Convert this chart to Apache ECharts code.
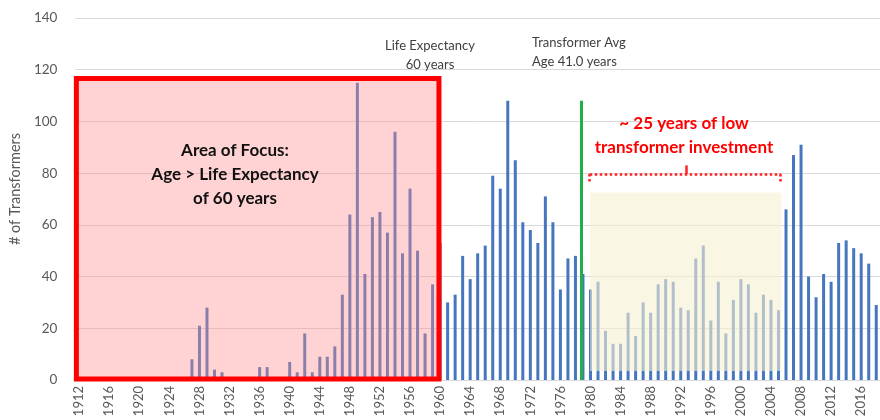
<!DOCTYPE html>
<html>
<head>
<meta charset="utf-8">
<script src="https://cdn.jsdelivr.net/npm/echarts@6/dist/echarts.min.js"></script>
<style>
  html, body { margin: 0; padding: 0; background: #fff; }
  #age-chart { width: 880px; height: 420px; }
</style>
</head>
<body>
<div id="age-chart"></div>
<script>
// install year of transformers, 1912 .. 2018
var years = [];
for (var y = 1912; y <= 2018; y++) years.push(String(y));

// # of transformers per install year
var counts = [
  0, 0, 0, 0, 0, 0, 0, 0, 0, 0,        // 1912-1921
  0, 1, 0, 0, 0, 8, 21, 28, 4, 3,      // 1922-1931
  0, 0, 0, 1, 5, 5, 0, 0, 7, 3,        // 1932-1941
  18, 3, 9, 9, 13, 33, 64, 115, 41, 63, // 1942-1951
  65, 57, 96, 49, 74, 50, 18, 37, 53, 30, // 1952-1961
  33, 48, 39, 49, 52, 79, 74, 108, 85, 61, // 1962-1971
  58, 53, 71, 61, 35, 47, 48, 41, 35, 38, // 1972-1981
  19, 14, 14, 26, 17, 30, 26, 37, 39, 38, // 1982-1991
  28, 27, 47, 52, 23, 38, 18, 31, 39, 37, // 1992-2001
  26, 33, 31, 27, 66, 87, 91, 40, 32, 41, // 2002-2011
  38, 53, 54, 51, 49, 45, 29            // 2012-2018
];

var yTicks = [0, 20, 40, 60, 80, 100, 120, 140];

// overlays, in (year, count) units
var focusBox = [[1911.63, 0.4], [1959.85, 116.6]];
var lowInvestBox = [[1979.95, 3.5], [2005.4, 72.5]];
var avgAgeYear = 1978.8;
var avgAgeTop = 108;
var bracketLeft = 1979.9, bracketRight = 2005.3, bracketMid = 1992.7;
var bracketY = 79.7, bracketEndY = 76.8, bracketTipY = 83;

var textGray = '#595959';
var font = 'Lato, "Open Sans", sans-serif';

var chart = echarts.init(document.getElementById('age-chart'));

var option = {
  animation: false,
  grid: { left: 71, right: 0, top: 18, bottom: 40 },
  xAxis: [
    {
      type: 'category',
      data: years,
      axisLine: { lineStyle: { color: '#d9d9d9' } },
      axisTick: { interval: 3, length: 4, lineStyle: { color: '#d9d9d9' } },
      axisLabel: {
        interval: 3, rotate: 90, margin: 6,
        color: textGray, fontSize: 13, fontFamily: font
      }
    },
    {
      type: 'value',
      min: 1911.5,
      max: 2018.5,
      show: false
    }
  ],
  yAxis: {
    type: 'value',
    min: yTicks[0],
    max: yTicks[yTicks.length - 1],
    interval: 20,
    name: '# of Transformers',
    nameLocation: 'middle',
    nameGap: 46,
    nameRotate: 90,
    nameTextStyle: { color: textGray, fontSize: 14.5, fontFamily: font, padding: [0, 0, 0, 20] },
    axisLine: { show: false },
    axisTick: { show: false },
    axisLabel: { color: textGray, fontSize: 13.5, fontFamily: font, margin: 18 },
    splitLine: { lineStyle: { color: '#d9d9d9' } }
  },
  series: [
    {
      type: 'bar',
      data: counts,
      barWidth: 3,
      itemStyle: { color: '#4677be' },
      z: 2
    },
    {
      type: 'line',
      xAxisIndex: 1,
      data: [],
      z: 10,
      markArea: {
        silent: true,
        z: 10,
        data: [
          [
            { coord: focusBox[0], itemStyle: { color: 'rgba(255,140,140,0.38)', borderColor: '#ff0000', borderWidth: 5 } },
            { coord: focusBox[1] }
          ],
          [
            { coord: lowInvestBox[0], itemStyle: { color: 'rgba(246,240,210,0.6)' } },
            { coord: lowInvestBox[1] }
          ]
        ]
      },
      markLine: {
        silent: true,
        z: 11,
        symbol: ['none', 'none'],
        label: { show: false },
        data: [
          [
            { coord: [avgAgeYear, 0], lineStyle: { color: '#1fb04a', width: 3, type: 'solid' } },
            { coord: [avgAgeYear, avgAgeTop] }
          ],
          [
            { coord: [bracketLeft, bracketY], lineStyle: { color: '#ff2020', width: 2.5, type: 'dotted' } },
            { coord: [bracketRight, bracketY] }
          ],
          [
            { coord: [bracketLeft, bracketY], lineStyle: { color: '#ff2020', width: 2.5, type: 'dotted' } },
            { coord: [bracketLeft, bracketEndY] }
          ],
          [
            { coord: [bracketRight, bracketY], lineStyle: { color: '#ff2020', width: 2.5, type: 'dotted' } },
            { coord: [bracketRight, bracketEndY] }
          ],
          [
            { coord: [bracketMid, bracketY], lineStyle: { color: '#ff2020', width: 2.5, type: 'solid' } },
            { coord: [bracketMid, bracketTipY] }
          ]
        ]
      }
    }
  ],
  graphic: [
    {
      type: 'text', x: 430, y: 36, z: 20,
      style: { text: 'Life Expectancy\n60 years', align: 'center', fill: '#404040', font: '13px ' + font, lineHeight: 19 }
    },
    {
      type: 'text', x: 532, y: 33, z: 20,
      style: { text: 'Transformer Avg\nAge 41.0 years', fill: '#404040', font: '13px ' + font, lineHeight: 19 }
    },
    {
      type: 'text', x: 235, y: 139, z: 20,
      style: { text: 'Area of Focus:\nAge > Life Expectancy\nof 60 years', align: 'center', fill: '#111', font: 'bold 17px ' + font, lineHeight: 24 }
    },
    {
      type: 'text', x: 684, y: 112, z: 20,
      style: { text: '~ 25 years of low\ntransformer investment', align: 'center', fill: '#ff0000', font: 'bold 17px ' + font, lineHeight: 24 }
    }
  ]
};

chart.setOption(option);
</script>
</body>
</html>
